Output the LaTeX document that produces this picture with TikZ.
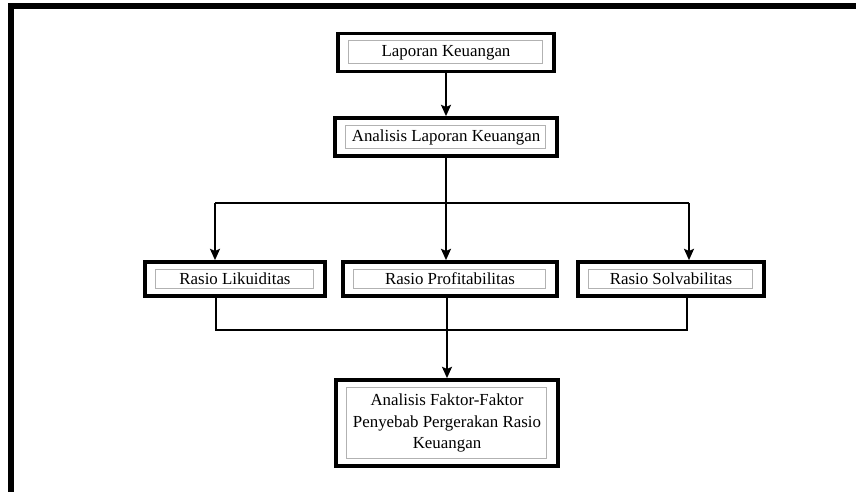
\documentclass[tikz,border=0pt]{standalone}
\usepackage{fontspec}
\setmainfont{Liberation Serif}
\usetikzlibrary{arrows.meta}

\begin{document}
\begin{tikzpicture}[
  x=0.025cm, y=-0.025cm,
  every node/.style={font=\fontsize{12}{15.5}\selectfont, align=center},
  box/.style={draw, line width=2.6pt, inner sep=0pt, minimum height=0.95cm,
    path picture={\draw[gray!60, line width=0.6pt]
      ([xshift=0.27cm,yshift=-0.18cm]path picture bounding box.north west) rectangle
      ([xshift=-0.3cm,yshift=0.2cm]path picture bounding box.south east);}},
  line/.style={line width=1.7pt},
  arr/.style={-{Stealth[length=8pt, width=7pt, inset=1.5pt]}, line width=1.7pt},
  frame/.style={line width=4pt}
]
\useasboundingbox (0,0) rectangle (856,492);
\draw[frame] (10.8,492) -- (10.8,6) -- (856,6);

\node[box, minimum width=5.4cm] (lap) at (446,52.5) {Laporan Keuangan};
\node[box, minimum width=5.55cm, minimum height=0.95cm] (ana) at (446,137) {Analisis Laporan Keuangan};
\node[box, minimum width=4.5cm, minimum height=0.85cm] (lik) at (235,279) {Rasio Likuiditas};
\node[box, minimum width=5.35cm, minimum height=0.85cm] (pro) at (450,279) {Rasio Profitabilitas};
\node[box, minimum width=4.65cm, minimum height=0.85cm] (sol) at (671,279) {Rasio Solvabilitas};
\node[box, minimum width=5.55cm, minimum height=2.15cm] (fak) at (447,423)
  {Analisis Faktor-Faktor\\Penyebab Pergerakan Rasio\\Keuangan};

\coordinate (lt) at (215,203);
\coordinate (rt) at (689,203);
\coordinate (lb) at (216,330);
\coordinate (rb) at (687,330);

\draw[arr] (lap) -- (ana);
\draw[arr] (ana.south) -- (ana.south |- pro.north);
\draw[line] (lt) -- (rt);
\draw[arr] (lt) -- (lt |- lik.north);
\draw[arr] (rt) -- (rt |- sol.north);
\draw[line] (lb |- lik.south) -- (lb) -- (rb) -- (rb |- sol.south);
\draw[arr] (fak.north |- pro.south) -- (fak.north);
\end{tikzpicture}
\end{document}
